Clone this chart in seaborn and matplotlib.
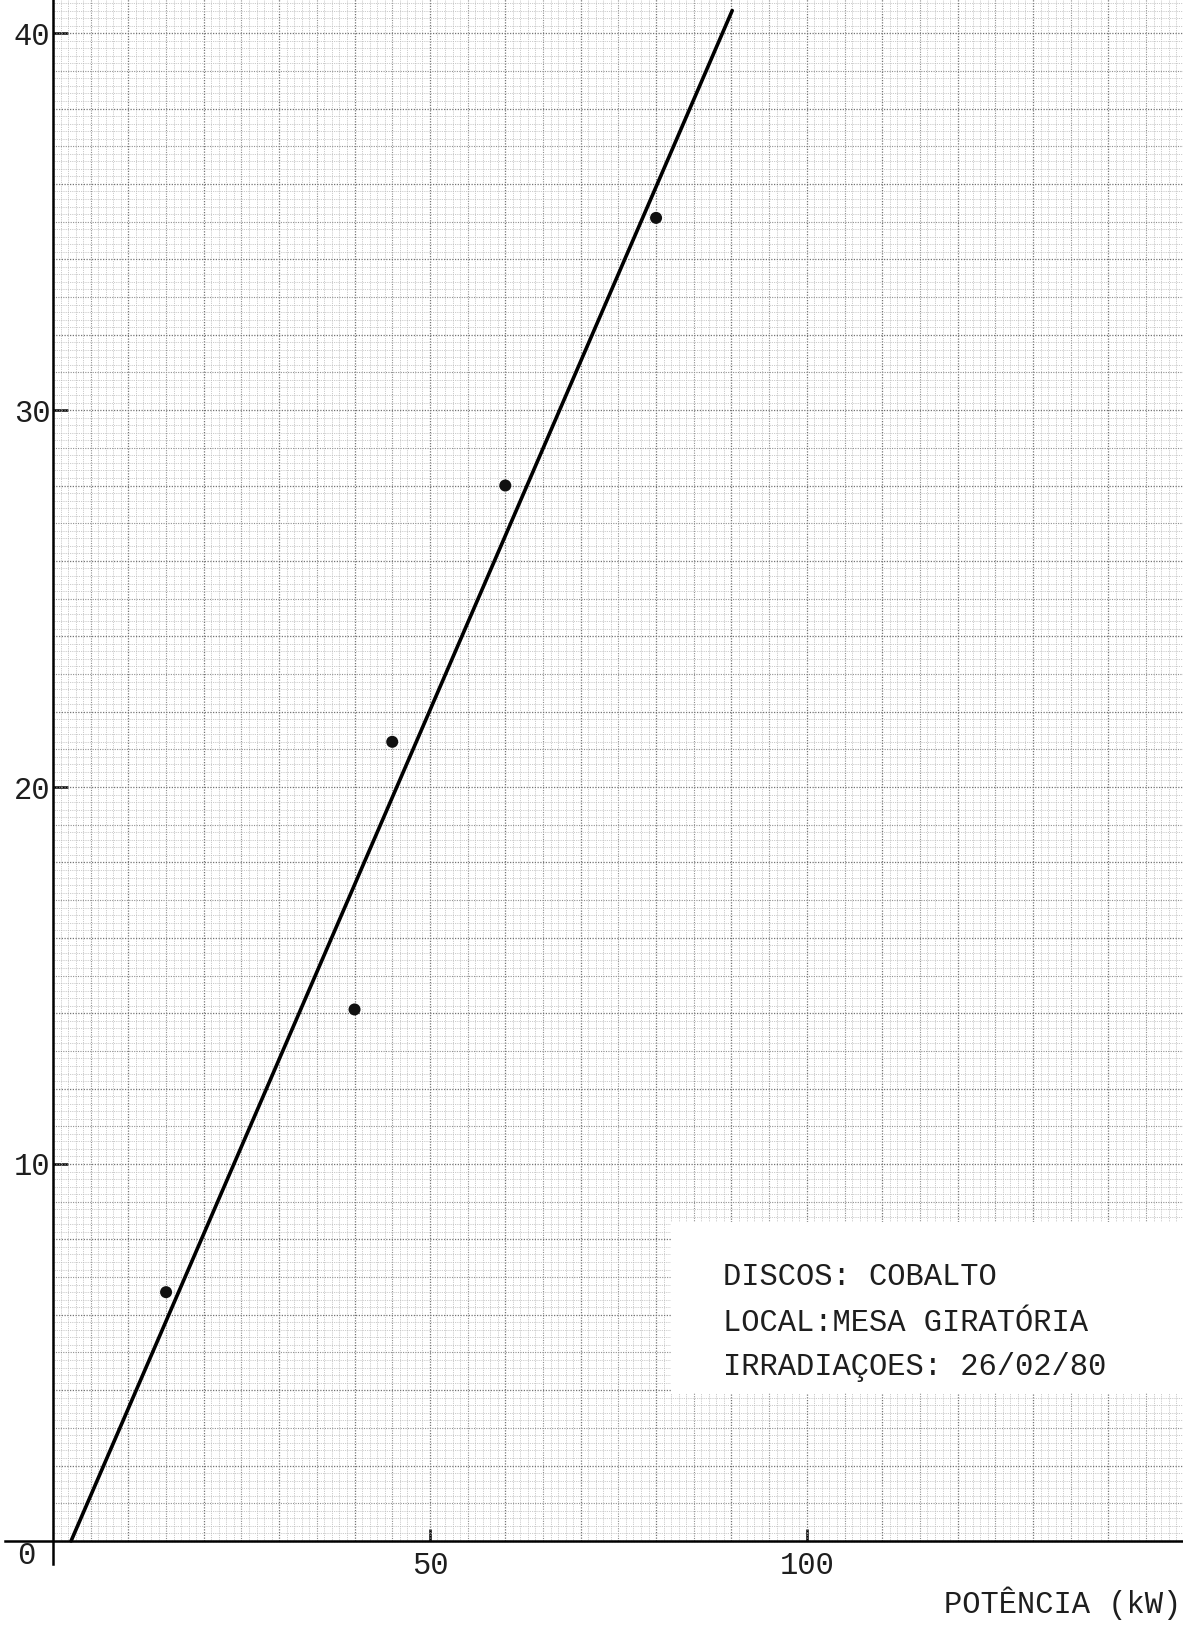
import numpy as np
import matplotlib
matplotlib.use("Agg")
import matplotlib.pyplot as plt
from matplotlib.patches import Rectangle
import seaborn as sns

# data
potencia = [15, 40, 45, 60, 80]          # kW
valores = [6.6, 14.1, 21.2, 28.0, 35.1]
fit_x = [2.4, 90.1]
fit_y = [0.0, 40.6]
yticks = [10, 20, 30, 40]
xticks = [50, 100]
info = ["DISCOS: COBALTO", "LOCAL:MESA GIRATÓRIA", "IRRADIAÇOES: 26/02/80"]

sns.set_style("white")
plt.rcParams['font.family'] = ['Liberation Mono', 'DejaVu Sans Mono']

fig = plt.figure(figsize=(11.83, 16.25), dpi=100)
ax = fig.add_axes([0, 0, 1, 1])
ax.set_xlim(-7.03, 149.9)
ax.set_ylim(-2.23, 40.88)

# graph paper: 1 mm, 5 mm and 10 mm lines
xr = np.arange(0, 151, 1)
yr = np.arange(0, 41.2, 0.2)
for i, x in enumerate(xr):
    if i % 10 == 0:
        c, lw = '#747474', 0.9
    elif i % 5 == 0:
        c, lw = '#909090', 0.8
    else:
        c, lw = '#bababa', 0.6
    ax.vlines(x, 0, 41, color=c, lw=lw, ls=(0, (1, 1.2)), zorder=1)
for i, y in enumerate(yr):
    if i % 10 == 0:
        c, lw = '#747474', 0.9
    elif i % 5 == 0:
        c, lw = '#909090', 0.8
    else:
        c, lw = '#bababa', 0.6
    ax.hlines(y, 0, 151, color=c, lw=lw, ls=(0, (1, 1.2)), zorder=1)

# fitted line and measured points
sns.lineplot(x=fit_x, y=fit_y, ax=ax, color='black', lw=2.6, zorder=4)
sns.scatterplot(x=potencia, y=valores, ax=ax, color='#111111', s=75,
                edgecolor='none', zorder=5)

# axes drawn like the hand-made ones
for s in ['top', 'right']:
    ax.spines[s].set_visible(False)
ax.spines['left'].set_position(('data', 0))
ax.spines['bottom'].set_position(('data', 0))
ax.spines['left'].set_bounds(-0.6, 41)
ax.spines['bottom'].set_bounds(-6.4, 151)
for s in ['left', 'bottom']:
    ax.spines[s].set_color('black')
    ax.spines[s].set_linewidth(1.8)
    ax.spines[s].set_zorder(3)

ax.set_yticks(yticks)
ax.set_yticklabels([str(v) for v in yticks])
ax.set_xticks(xticks)
ax.set_xticklabels([str(v) for v in xticks])
ax.tick_params(axis='y', direction='in', length=11, width=1.8, pad=2,
               labelsize=22, labelcolor='#1e1e1e', colors='black', left=True)
ax.tick_params(axis='x', direction='in', length=9, width=1.8, pad=7,
               labelsize=22, labelcolor='#1e1e1e', colors='black', bottom=True)
ax.text(-3.6, -0.4, "0", fontsize=22, ha='center', va='center', color='#1e1e1e')

# label box
ax.add_patch(Rectangle((82.0, 3.93), 70, 4.53, facecolor='white',
                       edgecolor='none', zorder=2))
for txt, yy in zip(info, [7.0, 5.78, 4.62]):
    ax.text(88.9, yy, txt, fontsize=22, ha='left', va='center',
            color='#1e1e1e', zorder=6)

ax.text(149.7, -1.65, "POTÊNCIA (kW)", fontsize=22, ha='right',
        va='center', color='#1e1e1e')

fig.savefig('out.png', dpi=100, facecolor='white')
